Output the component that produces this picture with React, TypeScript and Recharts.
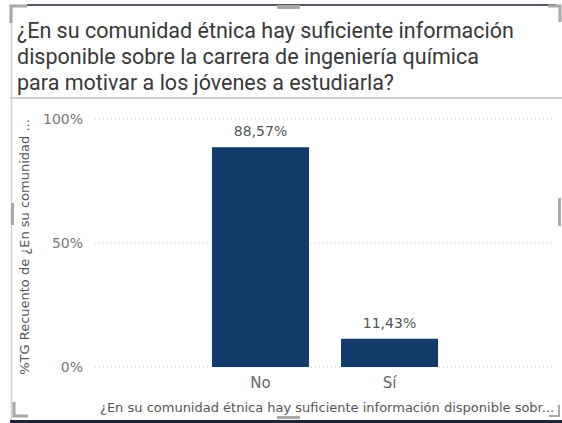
import React from "react"
import { BarChart, Bar, XAxis, YAxis, CartesianGrid, LabelList } from "recharts"

const categories = ["No", "Sí"]
const shares = [0.8857, 0.1143]
const yTicks = [0, 0.5, 1]

const titleLines = [
  "¿En su comunidad étnica hay suficiente información",
  "disponible sobre la carrera de ingeniería química",
  "para motivar a los jóvenes a estudiarla?",
]
const yTitle = "%TG Recuento de ¿En su comunidad ..."
const xTitle = "¿En su comunidad étnica hay suficiente información disponible sobr..."

const data = categories.map((c, i) => ({ name: c, value: shares[i] }))

const TITLE_FONT = "Roboto, 'Noto Sans', sans-serif"
const FONT = "'DejaVu Sans', sans-serif"
const pct = (v: number) => (v * 100).toFixed(2).replace(".", ",") + "%"

export default function App() {
  return (
    <div style={{ position: "fixed", left: 0, top: 0, width: 562, height: 423, background: "#fff", overflow: "hidden" }}>
      <div style={{ position: "absolute", left: 17, top: 18, fontFamily: TITLE_FONT, fontSize: 21.5, lineHeight: "26px", color: "#383838", whiteSpace: "nowrap" }}>
        {titleLines.map((l) => <div key={l}>{l}</div>)}
      </div>

      <div style={{ position: "absolute", left: 0, top: 0 }}>
        <BarChart width={562} height={423} data={data} margin={{ top: 119, right: 7, bottom: 26, left: 35 }}>
          <CartesianGrid vertical={false} stroke="#c8c8c8" strokeDasharray="1 3" />
          <XAxis
            dataKey="name"
            axisLine={false}
            tickLine={false}
            tickSize={0}
            tickMargin={10}
            height={30}
            padding={{ left: 101, right: 101 }}
            tick={{ fill: "#666", fontSize: 15, fontFamily: FONT }}
          />
          <YAxis
            domain={[0, 1]}
            ticks={yTicks}
            tickFormatter={(v) => Math.round(v * 100) + "%"}
            axisLine={false}
            tickLine={false}
            tickSize={0}
            tickMargin={12}
            width={60}
            tick={{ fill: "#777", fontSize: 14, fontFamily: FONT }}
          />
          <Bar dataKey="value" fill="#123b6b" barSize={97} isAnimationActive={false}>
            <LabelList dataKey="value" position="top" offset={11} formatter={(v: any) => pct(Number(v))} fill="#555" fontSize={14} fontFamily={FONT} />
          </Bar>
        </BarChart>
      </div>

      <svg width={562} height={423} style={{ position: "absolute", left: 0, top: 0, pointerEvents: "none" }}>
        {/* frame */}
        <line x1={27} y1={5} x2={556} y2={5} stroke="#1c2533" strokeWidth={1.5} />
        <line x1={11.5} y1={6} x2={11.5} y2={421} stroke="#cfcfcf" strokeWidth={1.5} />
        <rect x={10} y={97} width={552} height={2} fill="#cfcfcf" />
        <rect x={10} y={420} width={552} height={3} fill="#1c2533" />
        <path d="M11 23 V6 H27" stroke="#a8a8a8" strokeWidth={3} fill="none" />
        <path d="M548 6 H560 V22" stroke="#a8a8a8" strokeWidth={3} fill="none" />
        <path d="M14 402 V416 H28" stroke="#a8a8a8" strokeWidth={3} fill="none" />
        <path d="M549 416 H559 V405" stroke="#a8a8a8" strokeWidth={2} fill="none" />
        <rect x={277} y={5} width={23} height={4} fill="#a8a8a8" />
        <rect x={277} y={416} width={23} height={3} fill="#a8a8a8" />
        <rect x={11} y={203} width={3} height={22} fill="#a8a8a8" />
        <rect x={558} y={198} width={3} height={28} fill="#a8a8a8" />
        {/* axis titles */}
        <text x={0} y={0} transform="translate(29,247) rotate(-90)" textAnchor="middle" fill="#555" fontSize={13} fontFamily={FONT}>
          {yTitle}
        </text>
        <text x={100} y={412} fill="#555" fontSize={13} fontFamily={FONT}>
          {xTitle}
        </text>
      </svg>
    </div>
  )
}
